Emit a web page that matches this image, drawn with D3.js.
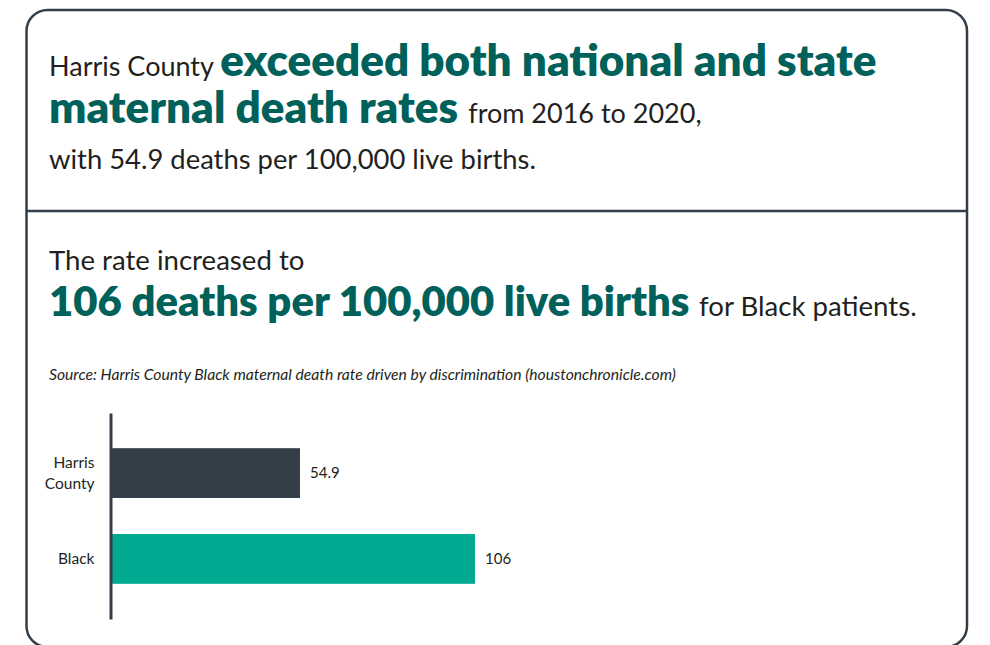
<!DOCTYPE html>
<html>
<head>
<meta charset="utf-8">
<script src="https://cdn.jsdelivr.net/npm/d3@7"></script>
<style>
  body { margin: 0; background: #fff; }
  svg { display: block; font-family: Lato, "Open Sans", sans-serif; }
</style>
</head>
<body>
<div id="chart"></div>
<script>
// data
const categories = ['Harris County', 'Black'];
const rates = [54.9, 106];
const barColors = ['#333e48', '#00a98f'];

const width = 990, height = 645;
const dark = '#231f20', teal = '#00605a';

const svg = d3.select('#chart').append('svg')
  .attr('width', width)
  .attr('height', height);

svg.append('rect')
  .attr('x', 0).attr('y', 0)
  .attr('width', width).attr('height', height)
  .attr('fill', '#fff');

// card frame, bottom edge runs just past the frame
svg.append('rect')
  .attr('x', 26.5).attr('y', 10)
  .attr('width', 940.5).attr('height', 637)
  .attr('rx', 21)
  .attr('fill', 'none')
  .attr('stroke', '#333e48')
  .attr('stroke-width', 2.5);

svg.append('line')
  .attr('x1', 26.5).attr('x2', 967)
  .attr('y1', 211).attr('y2', 211)
  .attr('stroke', '#333e48')
  .attr('stroke-width', 2.5);

// headline text, a run of spans per line
function textLine(x, y, parts) {
  let t = svg.append('text').attr('x', x).attr('y', y);
  parts.forEach((p) => {
    t.append('tspan')
      .attr('font-size', p.size)
      .attr('font-weight', p.bold ? 800 : 400)
      .attr('fill', p.bold ? teal : dark)
      .text(p.text);
  });
  return t;
}

textLine(49, 76, [
  {text: 'Harris County ', size: 27},
  {text: 'exceeded both national and state', size: 44, bold: true}
]);
textLine(49, 123, [
  {text: 'maternal death rates ', size: 44, bold: true},
  {text: 'from 2016 to 2020,', size: 27}
]);
textLine(49, 169, [
  {text: 'with 54.9 deaths per 100,000 live births.', size: 27.4}
]);

textLine(49, 270, [
  {text: 'The rate increased to', size: 27.6}
]);
textLine(49, 316, [
  {text: '106 deaths per 100,000 live births ', size: 41.8, bold: true},
  {text: 'for Black patients.', size: 27.6}
]);

svg.append('text')
  .attr('x', 49).attr('y', 380)
  .attr('font-size', 15.7)
  .attr('font-style', 'italic')
  .attr('fill', dark)
  .text('Source: Harris County Black maternal death rate driven by discrimination (houstonchronicle.com)');

// bar chart
const x = d3.scaleLinear().domain([0, 106]).range([112, 475]);
const y = d3.scaleBand().domain(categories).range([413, 619])
  .paddingInner(0.42).paddingOuter(0.41);

let g = svg.append('g');

g.selectAll('.bar')
  .data(categories)
  .enter()
  .append('rect')
  .attr('class', 'bar')
  .attr('x', x(0))
  .attr('y', (d) => y(d))
  .attr('width', (d, i) => x(rates[i]) - x(0))
  .attr('height', y.bandwidth())
  .attr('fill', (d, i) => barColors[i]);

g.selectAll('.val')
  .data(categories)
  .enter()
  .append('text')
  .attr('class', 'val')
  .attr('x', (d, i) => x(rates[i]) + 10)
  .attr('y', (d) => y(d) + y.bandwidth() / 2)
  .attr('dy', '0.35em')
  .attr('font-size', 15)
  .attr('fill', dark)
  .text((d, i) => rates[i]);

let yAxis = d3.axisLeft(y).tickSize(0).tickPadding(16);
let gY = svg.append('g')
  .attr('transform', 'translate(' + (x(0) - 1.5) + ',0)')
  .call(yAxis);
gY.select('.domain')
  .attr('stroke', '#333e48')
  .attr('stroke-width', 3);
gY.selectAll('.tick text')
  .attr('font-size', 15.5)
  .attr('font-family', 'Lato, sans-serif')
  .attr('fill', dark)
  .each(function(d) {
    let words = d.split(' ');
    if(words.length < 2) return;
    let t = d3.select(this).text(null);
    words.forEach((w, i) => {
      t.append('tspan')
        .attr('x', -16)
        .attr('dy', i === 0 ? '-0.3em' : '1.3em')
        .text(w);
    });
  });
</script>
</body>
</html>
